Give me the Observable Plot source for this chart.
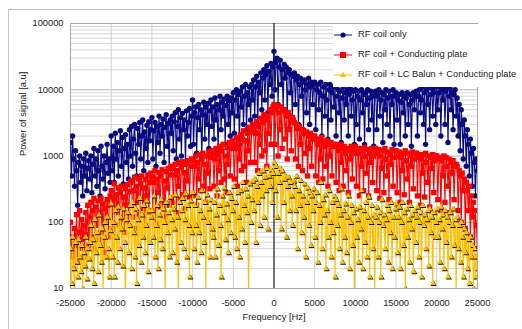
<!DOCTYPE html>
<html><head><meta charset="utf-8">
<script src="https://cdn.jsdelivr.net/npm/d3@7"></script>
<script src="https://cdn.jsdelivr.net/npm/@observablehq/plot@0.6"></script>
<style>
body{margin:0;background:#fff;font-family:"Liberation Sans",Arial,sans-serif;}
#wrap{position:relative;width:522px;height:329px;overflow:hidden;background:#fff;}
#frame{position:absolute;left:8px;top:9px;width:600px;height:400px;border-left:1px solid #c4c4c4;border-top:1px solid #c4c4c4;pointer-events:none;}
#chart{position:absolute;left:0;top:0;}
#legend{position:absolute;left:333px;top:24px;width:189px;height:63px;background:#fff;font-size:9.3px;color:#222;}
#legend .row{position:absolute;left:0;height:14px;line-height:14px;white-space:nowrap;}
#legend svg{vertical-align:middle;margin-right:5px;}
</style>
</head><body>
<div id="wrap"><div id="frame"></div><div id="chart"></div><div id="legend"></div></div>
<script>
// Frequency sampling grid (Hz)
const fStart = -25000, fStep = 125;
const seriesNames = ["RF coil only", "RF coil + Conducting plate", "RF coil + LC Balun + Conducting plate"];
// RF coil only
const blueRF = [
1600,500,2000,900,350,1200,600,180,800,1000,400,700,250,900,500,1100,300,650,850,450,
1000,280,750,1300,500,900,350,1200,600,250,1400,700,450,1000,320,800,1500,550,900,400,
2000,600,1400,400,2200,900,1600,500,1200,2400,700,1900,380,1300,2100,800,1500,450,2500,1000,
2800,700,1800,3000,1100,500,2600,1500,3200,900,2000,3500,600,2300,1300,2900,800,3300,1700,2500,
3800,900,2400,3200,700,2800,1600,4000,1100,3000,2000,3600,800,2700,4200,1400,3100,650,3500,2200,
4000,1200,3300,4500,900,2800,5000,1800,3800,1000,4400,2500,3500,750,4800,2000,3200,5200,1400,4000,
7000,1500,4500,5500,1100,3800,6000,2500,5000,900,4200,6500,1800,5500,3000,6200,1300,4800,7000,2800,
5500,1800,7500,3500,6000,1200,5000,8000,2500,6500,4000,7200,1500,5800,8000,3000,6800,2000,7500,4500,
9000,2200,7000,10000,4000,8500,1500,9500,5500,11000,3000,8000,12000,2500,9000,6000,11000,3500,12000,7000,
14000,4000,11000,16000,3000,13000,9000,18000,5000,15000,20000,7000,17000,23000,4500,19000,12000,25000,8000,22000,
38000,10000,26000,30000,6000,22000,28000,12000,20000,5000,24000,15000,22000,4000,18000,20000,9000,17000,3500,16000,
18000,6000,14000,16000,3000,12000,15000,8000,13000,2500,14000,10000,4500,12000,15000,3000,11000,13000,6000,12000,
13000,2500,10000,12000,5000,9000,13000,2000,8000,11000,4000,12000,7000,1800,10000,12000,3500,9000,11000,5500,
11000,2000,8000,10000,4500,9500,1600,7500,11000,3500,9000,6000,10000,2000,8500,10500,4000,7000,9500,1500,
10000,3000,8000,9500,1800,7000,10000,4500,8500,1500,9000,6000,10000,2500,7500,9500,3500,8000,1400,9000,
9500,2500,8000,10000,4000,7000,9000,1600,8500,5000,10000,3000,7500,9500,2000,8000,6000,10000,1500,8000,
9000,3500,7000,8500,1500,6500,9000,4500,8000,2000,7500,9000,3000,6000,8500,1400,7000,9000,5000,8000,
9500,2000,8000,10000,4500,7000,11000,3000,9000,1500,10000,6000,11000,2500,8500,10500,4000,9000,11000,3000,
11000,5000,9000,11000,2000,10000,7000,11000,3000,9500,11000,1600,8000,10500,5000,9000,2500,8500,10000,4000,
7500,2000,6000,1200,5000,3000,900,3500,2000,700,2500,1500,500,1800,1100,350,1300,800,250,900,
600
];
// RF coil + Conducting plate
const redPlate = [
100,30,60,20,80,45,130,25,70,150,40,110,55,90,30,140,65,180,45,120,
200,60,150,230,40,170,90,210,55,140,230,70,190,35,160,100,220,60,180,250,
300,80,220,380,60,260,140,330,90,280,350,110,240,70,320,180,370,100,290,400,
420,120,300,480,80,350,200,450,130,380,500,160,330,90,440,250,520,140,400,550,
480,150,400,600,100,450,280,560,170,500,620,200,420,120,580,330,650,180,520,700,
650,200,520,750,140,600,350,800,220,680,820,260,560,160,760,420,850,240,700,900,
850,250,700,1000,180,800,450,1050,300,900,1100,350,750,200,1000,550,1150,320,950,1200,
1100,350,900,1300,250,1050,600,1400,400,1200,1500,450,1000,280,1350,750,1600,500,1300,1700,
1500,450,1300,1900,350,1600,900,2100,600,1800,2400,700,1700,400,2200,1200,2700,800,2300,3000,
2500,800,2200,3300,600,2800,1500,3700,1000,3200,4200,1200,3500,700,4000,2200,5000,1500,4500,5500,
6000,1500,5000,5800,1000,4500,2500,5500,1300,4800,5000,1800,4200,900,4500,2500,4000,1200,3800,3500,
3200,900,3000,2600,700,2800,1500,2500,600,2400,2200,1100,2300,500,2000,1300,2200,700,2000,1800,
2000,500,1800,1500,400,1700,900,1900,450,1600,1400,700,1700,350,1500,1000,1600,500,1400,1500,
1500,400,1400,1200,300,1500,800,1300,350,1400,1100,600,1300,280,1200,900,1400,450,1100,1300,
1400,350,1200,1100,250,1300,700,1200,300,1350,1000,550,1250,250,1100,800,1300,400,1000,1200,
1300,300,1100,1250,230,1000,650,1200,280,1300,900,500,1150,220,1050,750,1250,350,950,1200,
1200,280,1000,1150,200,950,600,1100,260,1200,850,450,1100,200,1000,700,1150,320,900,1100,
1100,250,950,1050,180,900,550,1050,240,1100,800,400,1000,170,950,650,1050,280,850,1000,
1000,220,900,950,150,850,500,1000,200,950,700,350,900,140,800,550,850,220,700,750,
700,150,600,500,100,550,300,450,80,400,300,150,350,60,250,120,200,40,150,90,
30
];
// RF coil + LC Balun + Conducting plate
const yellowBalun = [
40,12,60,20,8,50,25,15,55,30,18,45,10,35,22,60,14,40,28,50,
90,20,55,12,110,35,70,18,130,45,25,80,9,60,100,30,120,40,15,75,
190,30,100,15,150,60,25,170,40,120,80,22,160,50,7,110,140,35,90,180,
20,200,70,30,160,12,110,45,230,25,130,60,180,35,90,210,18,150,50,120,
150,60,250,30,90,180,20,130,55,220,40,160,100,8,200,70,140,30,240,110,
35,160,80,260,25,120,6,200,50,150,230,40,110,270,30,180,90,15,210,70,
280,40,180,90,25,240,70,150,35,300,120,50,200,9,260,100,160,30,220,80,
60,200,30,130,320,45,180,90,15,250,140,330,55,190,110,35,280,70,230,150,
350,60,200,40,280,120,30,300,80,400,180,50,320,140,250,8,380,100,220,420,
150,450,50,350,200,550,90,400,250,600,120,480,300,650,80,500,350,620,200,550,
800,300,700,120,550,400,650,80,600,200,450,500,60,350,480,150,400,250,90,420,
350,150,500,40,300,180,430,70,250,120,380,30,200,330,90,280,45,250,150,320,
60,200,280,25,180,100,400,40,220,130,260,20,150,60,300,100,30,200,70,250,
15,220,90,180,40,130,320,25,150,60,190,35,120,250,20,100,180,45,140,8,
160,60,110,25,170,80,300,20,150,50,200,30,120,240,15,100,180,40,130,9,
120,170,30,100,140,15,220,90,130,40,110,180,25,150,70,200,20,120,60,160,
190,35,120,170,20,100,200,45,140,10,160,60,110,25,180,80,130,18,150,50,
120,170,30,100,140,15,180,90,130,40,110,150,22,160,70,120,12,140,60,100,
160,60,110,25,170,80,130,20,150,50,120,15,100,140,30,90,160,45,110,9,
120,40,90,25,100,60,15,80,35,70,20,55,12,60,30,45,10,40,15,30,
20
];
const xTicks = [-25000,-20000,-15000,-10000,-5000,0,5000,10000,15000,20000,25000];
const yTicks = [10,100,1000,10000,100000];
const minorMult = [2,3,4,5,6,7,8,9];

const toRows = arr => arr.map((v,i) => ({f: fStart + i*fStep, v}));
const blue = toRows(blueRF), red = toRows(redPlate), yel = toRows(yellowBalun);
const minorTicks = yTicks.slice(0,-1).flatMap(d => minorMult.map(m => d*m));

const cBlue = "#0a0a80", cRed = "#ff0000", cYel = "#ffc000";

const chart = Plot.plot({
  width: 522, height: 329,
  marginLeft: 70, marginRight: 45, marginTop: 23, marginBottom: 41,
  style: {fontFamily: "Liberation Sans, Arial, sans-serif", fontSize: "9.3px", color: "#222", background: "transparent"},
  x: {domain: [-25000, 25000], ticks: xTicks, tickFormat: d => String(d), tickSize: 0, tickPadding: 11, label: null},
  y: {type: "log", domain: [10, 100000], ticks: yTicks, tickFormat: d => String(d), tickSize: 0, tickPadding: 7, label: null},
  marks: [
    Plot.ruleY(minorTicks, {stroke: "#d6d6d6", strokeWidth: 1}),
    Plot.ruleY(yTicks, {stroke: "#b8b8b8", strokeWidth: 1}),
    Plot.ruleX(xTicks, {stroke: "#cfcfcf", strokeWidth: 1}),
    Plot.frame({stroke: "#a8a8a8"}),
    Plot.ruleX([0], {stroke: "#000", strokeWidth: 1}),
    Plot.line(blue, {x: "f", y: "v", stroke: cBlue, strokeWidth: 1.1, clip: true}),
    Plot.dot(blue, {x: "f", y: "v", symbol: "circle", r: 2.7, fill: cBlue, stroke: "none", clip: true}),
    Plot.line(red, {x: "f", y: "v", stroke: cRed, strokeWidth: 1.1, clip: true}),
    Plot.dot(red, {x: "f", y: "v", symbol: "square", r: 3, fill: cRed, stroke: "none", clip: true}),
    Plot.line(yel, {x: "f", y: "v", stroke: cYel, strokeWidth: 1.1, clip: true}),
    Plot.dot(yel, {x: "f", y: "v", symbol: "triangle", r: 2.2, fill: "#111", stroke: "none", dx: 1, dy: 1, clip: true}),
    Plot.dot(yel, {x: "f", y: "v", symbol: "triangle", r: 2.2, fill: cYel, stroke: "none", clip: true}),
    Plot.text(["Frequency [Hz]"], {frameAnchor: "bottom", dy: 31, fontSize: 9.3, fill: "#222"}),
    Plot.text(["Power of signal [a.u]"], {frameAnchor: "left", dx: -47, rotate: -90, fontSize: 9.3, fill: "#222"})
  ]
});
document.getElementById("chart").appendChild(chart);

// Legend
const legend = document.getElementById("legend");
const swatches = [
  {color: cBlue, shape: "circle"},
  {color: cRed, shape: "square"},
  {color: cYel, shape: "triangle"}
];
seriesNames.forEach((name, i) => {
  const row = document.createElement("div");
  row.className = "row";
  row.style.top = (3 + i*20) + "px";
  const s = swatches[i];
  let marker;
  if (s.shape === "circle") marker = `<circle cx="10" cy="5" r="2.6" fill="${s.color}"/>`;
  else if (s.shape === "square") marker = `<rect x="7" y="2" width="6" height="6" fill="${s.color}"/>`;
  else marker = `<path d="M10,1.5 L13,7 L7,7 Z" fill="${s.color}"/>`;
  row.innerHTML = `<svg width="20" height="10"><line x1="1" y1="5" x2="19" y2="5" stroke="${s.color}" stroke-width="1"/>${marker}</svg><span>${name}</span>`;
  legend.appendChild(row);
});
</script>
</body></html>
